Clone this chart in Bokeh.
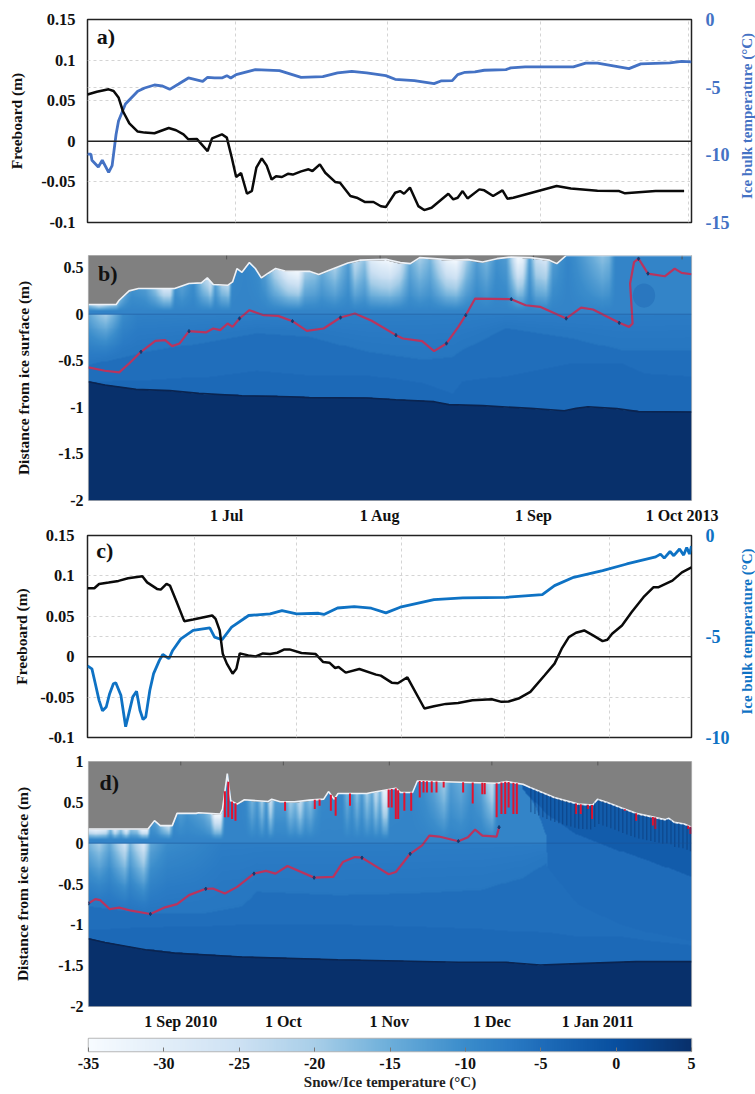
import numpy as np
from bokeh.plotting import figure
from bokeh.layouts import column, row
from bokeh.models import (Range1d, LinearAxis, FixedTicker, NumeralTickFormatter, LinearColorMapper,
                          Grid, Span, Label)
from bokeh.embed import file_html
from bokeh.resources import INLINE

# ---------- panel a (days since 1 Jun 2013)
a_fb_days = [0,1.9,4.3,5.3,6.3,7.2,8.5,10.2,11.6,13.6,16.5,18,19.5,20.5,22.2,24.4,25.3,27.3,28.3,29.3,30.2,31.2,32.4,33.4,34.3,35.4,36.4,37.4,38.3,39.5,40.7,41.7,43.4,44.9,45.7,47.2,48.3,50.3,51.3,53.4,54.7,56.4,58.1,59.6,60.6,62.5,63.5,64.3,65.5,67.2,68.4,69.9,73.3,74.3,75.2,76.2,77.2,79.6,80.6,82.4,84.3,85.3,86.5,95.3,98.2,103.6,108,109.2,115.4,121.2]
a_fb = [.0576,.061,.064,.062,.054,.037,.022,.012,.0107,.0099,.0164,.0136,.0086,.0025,.0029,-.012,.0037,.0086,.0045,-.02,-.044,-.039,-.0646,-.061,-.0325,-.021,-.03,-.047,-.043,-.044,-.04,-.041,-.037,-.0345,-.0366,-.0284,-.0387,-.05,-.051,-.0674,-.0695,-.0748,-.0748,-.08,-.081,-.0633,-.0613,-.0646,-.057,-.0798,-.0847,-.0818,-.0646,-.0715,-.0695,-.0613,-.0703,-.0592,-.0604,-.0674,-.0604,-.0707,-.0695,-.055,-.058,-.0609,-.0613,-.0641,-.0613,-.0613]
a_t_days = [0,.7,.9,2.2,3,4.3,5,5.8,6.3,7.7,10.2,11.6,13.6,15.1,16.7,18.5,20.5,23.4,24.4,25.8,27.3,28.3,29.1,30.2,34.1,39,43.4,47.8,50.8,53.7,56.7,60.6,62.5,66.4,70.4,71.8,74.1,75.2,76.7,78.7,80.6,85,86,88.9,98.7,101.2,103.6,110,112.4,118.3,120.7,122.7]
a_t = [-9.95,-9.95,-10.4,-10.9,-10.4,-11.3,-10.8,-8.5,-7.5,-6.25,-5.3,-5.06,-4.84,-4.9,-5.16,-4.77,-4.32,-4.57,-4.27,-4.32,-4.32,-4.15,-4.32,-4.07,-3.7,-3.78,-4.27,-4.22,-3.95,-3.83,-3.95,-4.15,-4.42,-4.52,-4.74,-4.54,-4.52,-4.07,-3.9,-3.87,-3.75,-3.7,-3.57,-3.5,-3.5,-3.23,-3.23,-3.63,-3.28,-3.2,-3.09,-3.13]
a_grid_days = [30,61,92,122]

# ---------- panel b
b_tick_days = [30,61,92,122]
b_tick_labels = ["1 Jul","1 Aug","1 Sep","1 Oct 2013"]
b_s_days = [2.1,7.7,8.3,10.3,12.2,16.6,19.5,22.4,24.9,26.1,27.3,30.2,31.2,32.1,33.1,34.6,35.8,37,38.4,39.9,41.8,46.7,48.6,50.6,54.5,56.9,62.2,65.1,67.1,69,71.9,75.8,78.7,81.7,84.6,87.5,91.4,95.2,96.7,98.6,123.9]
b_s = [.104,.104,.15,.25,.275,.275,.275,.33,.336,.39,.318,.31,.346,.49,.45,.554,.49,.39,.44,.49,.464,.46,.425,.47,.55,.58,.59,.554,.543,.607,.596,.58,.586,.56,.596,.614,.607,.58,.543,.63,.63]
b_red_days = [2.1,5.4,8.3,10.3,12.7,15.6,17.6,19,20.5,22.4,25.8,27.3,28.7,30.2,31.2,32.6,34.6,37.5,40.4,43.3,46.2,49.6,53,55.9,59.3,64.2,65.6,69.5,71.9,74.4,76.8,78.3,80.2,87.5,90.4,93.3,98.6,101.6,104,109.3,111.3,112,111.5,112.3,113.2,115.1,118.5,120.5,121.9,123.9]
b_red = [-.571,-.607,-.625,-.529,-.404,-.286,-.279,-.343,-.314,-.182,-.196,-.154,-.171,-.1,-.136,-.046,.043,-.011,-.018,-.075,-.179,-.154,-.036,.007,-.071,-.225,-.261,-.289,-.396,-.314,-.136,-.011,.168,.161,.096,.079,-.046,.071,.05,-.093,-.136,-.1,.329,.56,.596,.436,.407,.489,.443,.429]
b_bot_days = [2.1,5.4,11.7,18.5,24.4,33.1,42.8,46.7,58.3,64.2,71.9,74.9,81.7,91.4,98.2,100.6,103,108.8,113.2,123.9]
b_bot = [-.725,-.761,-.807,-.821,-.85,-.875,-.886,-.896,-.9,-.918,-.939,-.971,-.982,-1.011,-1.036,-1.011,-.993,-1.014,-1.046,-1.05]
b_band_days = [2.1,13.7,26.3,36,46.7,58.3,69.9,75.8,77.7,86.5,100.1,109.8,114.6,123.9]
b_iso_a = [-.546,-.404,-.296,-.207,-.243,-.404,-.486,-.457,-.386,-.154,-.261,-.386,-.386,-.386]
b_iso_b = [-.725,-.714,-.671,-.607,-.654,-.654,-.743,-.85,-.725,-.664,-.529,-.529,-.636,-.664]
b_snow_days = [2.1,4.1,6.1,7.5,10.8,13.5,15.5,17.2,18.5,19.5,20.9,23.2,25.3,26.6,27.6,28.9,30.3,31,33.6,36.3,37.7,39.7,42.4,44.4,45.7,47.7,49.1,51.8,54.5,55.8,57.8,59.1,61.2,63.1,65.1,67.1,69.1,71.2,74.5,76.5,78.5,80.6,82.6,84.6,86.6,88.9,89.9,91.3,92.6,94.6,96,98,99,106,107.4,108.7,111.4,123.5]
b_snow_t = [-20,-26,-22,-20,-12,-14,-20,-28,-28,-12,-15,-11,-22,-28,-14,-22,-24,-10,-9,-11,-14,-24,-32,-34,-22,-20,-16,-22,-14,-25,-20,-30,-33,-34,-28,-16,-22,-18,-32,-34,-22,-14,-18,-12,-14,-34,-32,-14,-26,-28,-14,-11,-9,-20,-18,-9,-8,-8]
b_cold_days = [2.1,4.1,5.5,7,9,12,123.9]
b_cold_t = [-14,-18,-20,-16,-10,-8,-7.2]
b_mark_days = [12.7,22.4,32.6,43.3,53,64.2,74.4,78.3,87.5,98.6,109.3,113.2,115.1]

# ---------- panel c (days since 1 Aug 2010)
c_fb_days = [-.3,1.7,3.1,5.9,8.8,11.6,15.8,17.2,20.1,21.2,22.9,23.9,25.7,28.1,30.7,36.3,37.3,38.5,39.4,40.6,42.3,43.4,44.4,46.9,49.1,51.2,53.3,55.4,57.5,59,62.5,66.7,68.9,70.7,72.4,73.4,75.5,79.5,84.4,85.8,89,90.8,93.6,98.6,101.4,104.9,108.5,112.7,118.4,121.2,123.3,126.2,129.7,133.9,136.8,138.9,141,143.1,145.5,148.1,150.9,152.3,153.7,156.6,159.4,162.9,165.8,167.2,171.4,174.2,177]
c_fb = [.0847,.0847,.09,.0917,.0938,.097,.0995,.092,.0839,.083,.09,.088,.0695,.044,.046,.051,.0469,.0325,.0037,-.0086,-.021,-.0148,.0041,.0016,.0004,.0041,.0033,.0049,.009,.009,.0045,.0033,-.0066,-.0074,-.014,-.0127,-.0197,-.0152,-.0222,-.0234,-.0321,-.0329,-.0255,-.0641,-.0613,-.0584,-.0572,-.0539,-.0526,-.0559,-.0555,-.0518,-.0436,-.023,-.0086,.0099,.0243,.0296,.0325,.0263,.0193,.021,.0284,.0387,.0551,.0736,.0859,.0859,.0942,.1044,.1106]
c_t_days = [-.3,1,2,3.1,4.1,5.2,6.2,7.3,8,9.5,10.9,11.6,13,14.1,15.1,16,16.8,18,19.1,20.8,21.8,23.6,24.7,27.1,30.7,35.6,37,39.2,42,47,53.3,56.8,61.1,67.5,69.1,73.1,78,83,87.3,91.5,101.4,109.9,122.6,133.2,136.8,142.4,150.9,158,166.5,167.9,169,170.7,171.8,173.5,174.7,175.6,176.4,177]
c_t = [-6.46,-6.6,-7.34,-8.16,-8.68,-8.49,-7.83,-7.34,-7.29,-7.91,-9.47,-8.98,-7.99,-7.71,-8.65,-9.11,-8.98,-7.66,-6.84,-6.18,-5.89,-6.1,-5.69,-5.12,-4.7,-4.57,-5.03,-5.16,-4.54,-3.96,-3.88,-3.72,-3.88,-3.85,-3.91,-3.59,-3.52,-3.6,-3.83,-3.55,-3.17,-3.09,-3.06,-2.93,-2.48,-2.07,-1.74,-1.41,-1.06,-.92,-1.12,-.79,-1.0,-.67,-.97,-.59,-.92,-.52]
c_grid_days = [31,61,92,122,153]

# ---------- panel d
d_tick_days = [31,61,92,122,153]
d_tick_labels = ["1 Sep 2010","1 Oct","1 Nov","1 Dec","1 Jan 2011"]
d_s_days = [4,21.4,23.3,25,28.5,29.9,35.5,36.2,42.5,43.2,44.6,45.6,47.5,49.6,56.6,57.6,60.1,64.3,68.6,72.8,74.2,75.9,77,85.4,86.8,93.9,95.3,98.8,100.2,123.4,126.2,131.1,133.2,140.3,147.3,151.5,152.9,155.8,160,164.2,172.6,173.8,175.4,178.3,180.4]
d_s = [.174,.174,.276,.215,.215,.365,.365,.373,.357,.418,.851,.519,.478,.531,.511,.539,.507,.507,.527,.539,.632,.539,.608,.608,.62,.673,.62,.62,.762,.734,.754,.722,.681,.559,.478,.466,.539,.499,.43,.365,.288,.304,.255,.235,.195]
d_red_days = [4,6,7.4,10.2,13,16.5,22.1,26.4,29.9,33.4,38.3,40.4,43.9,47.5,52.4,55.9,58.7,62.2,70,75.6,78.4,81.9,84,86.8,91.8,93.9,98.1,101.6,103.7,106.5,112.2,115,117.1,119.2,123.4,124.1]
d_red = [-.738,-.685,-.697,-.807,-.79,-.827,-.867,-.786,-.746,-.636,-.559,-.555,-.616,-.535,-.373,-.34,-.373,-.28,-.422,-.413,-.231,-.17,-.178,-.251,-.381,-.353,-.13,-.028,.093,.081,.024,.073,.166,.093,.081,.195]
d_bot_days = [4,8.8,20.7,29.2,48.9,77,91.1,112.2,126.2,136.1,147.3,164.2,180.4]
d_bot = [-1.171,-1.216,-1.305,-1.346,-1.394,-1.427,-1.439,-1.459,-1.459,-1.492,-1.475,-1.451,-1.451]
d_band_days = [4,20.7,37.6,48.9,53.1,77,98.1,119.2,129,131.1,135,138,138.5,147.3,160,168.4,180.4]
d_iso_a = [-.778,-.859,-.859,-.778,-.596,-.636,-.616,-.576,-.45,-.43,-.33,-.25,-.3,-.75,-1,-1.1,-1.2]
d_iso_b = [-1.062,-1.03,-1.02,-1,-1,-1,-1.02,-1.05,-1.08,-1.08,-1.08,-1.1,-1.1,-1.15,-1.15,-1.2,-1.25]
d_iso_e = [2,2,2,2,2,2,2,2,2,.72,.45,.1,-.3,-.75,-1,-1.1,-1.2]
d_iso_d = [2,2,2,2,2,2,2,2,2,.66,.5,.37,.35,.1,-.1,-.22,-.41]
d_snow_days = [4,6,8.9,10.3,11.6,13.3,14.9,16.2,18.1,19.6,21,22,24,25.9,27.4,28.8,30.8,32.7,35.6,37.6,39.5,40.8,42.5,43.9,46.8,49.8,51.7,53.2,54.6,55.9,57.1,58.5,61.4,62.9,64.4,65.8,67.3,68.8,70.2,72.2,78,79.5,80.9,82.4,83.8,85.3,86.8,87.9,89.2,90.2,91.1,92.1,98.4,102.3,105.3,108.2,110.1,113.1,116,118.9,120.9,122.3,123.8,129.6,131.6]
d_snow_t = [-30,-33,-30,-18,-30,-20,-32,-20,-22,-33,-33,-12,-16,-22,-26,-10,-14,-12,-14,-16,-20,-34,-34,-8,-8,-10,-18,-13,-22,-12,-28,-14,-14,-22,-18,-26,-16,-20,-14,-10,-10,-18,-12,-20,-13,-22,-16,-26,-18,-32,-32,-10,-9,-12,-16,-22,-14,-17,-12,-15,-22,-26,-10,-8,-3]
d_cold_days = [4,7,10,14.5,16,20,22,27,35,43,181]
d_cold_t = [-16,-20,-14,-26,-16,-28,-14,-10,-9,-7.5,-7.2]
d_mark_days = [4,22.1,38.3,52.4,70,84,98.1,112.2,124.1]
d_melt_days = [43.9,44.9,46,47,61.5,70.2,71.6,74.9,76.3,80.5,91.8,92.7,93.9,94.6,96.4,98.4,100.9,102,103,104.4,105.8,107.9,113.6,116.4,119.2,119.9,123.4,124.8,125.9,126.9,128.3,129.3,146.6,148,150.1,151.3,160.9,164.2,169.1,169.8,179.4,180.1]
d_melt_low = [.316,.316,.296,.276,.397,.418,.458,.397,.336,.458,.438,.438,.296,.296,.397,.397,.559,.62,.62,.62,.62,.681,.62,.486,.6,.6,.316,.357,.357,.438,.357,.357,.357,.357,.418,.296,.397,.276,.215,.174,.174,.113]
d_comb_days = [133.4,134.6,135.7,136.9,138.1,139.2,140.4,141.6,142.7,143.9,145.1,146.3,147.4,148.6,149.8,150.9,152.1,153.3,154.5,155.6,156.8,158,159.1,160.3,161.5,162.7,163.8,165,166.2,167.3,168.5,169.7,170.9,172,173.2,174.4,175.5,176.7,177.9,179.1,180.1]

# ---------- colour bar
cb_ticks = [-35,-30,-25,-20,-15,-10,-5,0,5]
cb_stop_t = [-35,-30,-25,-20,-15,-10,-7,-5,0,5]
cb_stop_rgb = [(247,251,255),(226,238,249),(205,225,243),(168,206,232),(108,174,218),(58,140,203),(42,123,196),(31,109,186),(8,79,159),(8,48,107)]

SERIF = "Liberation Serif"
BLUE_A, BLUE_C = "#4472c4", "#0e72c4"
_t = np.linspace(-35, 5, 256)
_pal = ["#%02x%02x%02x" % tuple(int(round(np.interp(v, cb_stop_t, [c[i] for c in cb_stop_rgb]))) for i in range(3)) for v in _t]
MAPPER = LinearColorMapper(palette=_pal, low=-35, high=5, nan_color="#808080")
LEFT, RIGHT, WIDTH = 87, 64, 755
SIDE = 20


def field(x0, x1, y0, y1, s_d, s, bot_d, bot, band_d, iso_a, iso_b, snow_d, snow_t, cold_d, cold_t,
          iso_e=None, iso_d=None):
    xs = np.linspace(x0, x1, 604)
    ys = np.linspace(y0, y1, 260)
    X, Y = np.meshgrid(xs, ys)
    S = np.interp(X, s_d, s)
    BOT = np.interp(X, bot_d, bot)
    A = np.interp(X, band_d, iso_a)
    B = np.interp(X, band_d, iso_b)
    E = np.interp(X, band_d, iso_e) if iso_e is not None else np.full_like(X, 2.0)
    D = np.interp(X, band_d, iso_d) if iso_d is not None else np.full_like(X, 2.0)
    TS = np.interp(X, snow_d, snow_t)
    C = np.interp(X, cold_d, cold_t)
    T = np.full_like(X, -4.4)
    T[Y >= B] = -5.2
    T[Y >= A] = -6.4
    w = np.clip((Y - A) / np.maximum(-A, 1e-3), 0, 1)
    dome = (Y >= A) & (Y < 0)
    T[dome] = (-6.4 + (C + 6.4) * w ** 1.5)[dome]
    above = (Y >= 0)
    w2 = np.clip((Y - 0.04) / np.maximum(S - 0.04, 1e-3), 0, 1)
    depth = np.clip(-8.6 - TS, 0, None)
    depth = 26.0 * (depth / 26.0) ** 1.25
    Ts = -8.6 - depth * w2 ** 1.0
    T[above] = Ts[above]
    T[Y >= E] = -4.8
    T[Y >= D] = -2.2
    T[Y < BOT] = 5.0
    T[Y > S] = np.nan
    return T


def style_common(p):
    p.toolbar.logo = None
    p.outline_line_color = "#222222"
    p.outline_line_width = 1.5
    p.xgrid.visible = False
    p.ygrid.visible = False
    return p


def side_title(h, top, bottom, colour):
    """Narrow strip whose left axis carries the right-hand title, reading upward and centred."""
    s = figure(width=SIDE, height=h, x_range=Range1d(0, 1), y_range=Range1d(0, 1), toolbar_location=None,
               output_backend="svg", min_border_left=SIDE - 2, min_border_right=0,
               min_border_top=top, min_border_bottom=bottom, frame_align=False)
    s.outline_line_color = None
    s.xgrid.visible = False
    s.ygrid.visible = False
    s.xaxis.visible = False
    ya = s.yaxis[0]
    ya.ticker = FixedTicker(ticks=[])
    ya.major_tick_in = 0
    ya.major_tick_out = 0
    ya.minor_tick_line_color = None
    ya.axis_line_color = None
    ya.major_label_standoff = 0
    ya.axis_label = "Ice bulk temperature (°C)"
    ya.axis_label_standoff = 0
    ya.axis_label_text_font = SERIF
    ya.axis_label_text_font_style = "bold"
    ya.axis_label_text_font_size = "15px"
    ya.axis_label_text_color = colour
    return s


def line_panel(h, top, bottom, xr, yr, tr, grid_days, fb_d, fb, t_d, t, colour, label, label_xy, ls, title_off):
    p = figure(width=WIDTH - SIDE, height=h, x_range=Range1d(*xr), y_range=Range1d(*yr), toolbar_location=None,
               output_backend="svg", min_border_left=LEFT, min_border_right=RIGHT - SIDE,
               min_border_top=top, min_border_bottom=bottom, background_fill_color="white", frame_align=False)
    style_common(p)
    p.extra_y_ranges = {"temp": Range1d(*tr)}
    p.xaxis.visible = False
    ya = p.yaxis[0]
    ya.ticker = FixedTicker(ticks=[-0.1, -0.05, 0, 0.05, 0.1, 0.15])
    ya.formatter = NumeralTickFormatter(format="0.[00]")
    ya.axis_label = "Freeboard (m)"
    ya.axis_label_text_font = SERIF
    ya.axis_label_text_font_style = "bold"
    ya.axis_label_text_font_size = "15.5px"
    ya.axis_label_text_color = "#111111"
    ya.axis_label_standoff = title_off
    ya.major_label_text_font = SERIF
    ya.major_label_text_font_style = "bold"
    ya.major_label_text_font_size = "16.5px"
    ya.major_label_text_color = "#111111"
    ya.major_label_standoff = ls
    ya.major_tick_in = 0
    ya.major_tick_out = 0
    ya.minor_tick_line_color = None
    ya.axis_line_color = None
    tks = list(np.arange(tr[0], tr[1] + 1, 5))
    ra = LinearAxis(y_range_name="temp", ticker=FixedTicker(ticks=tks), formatter=NumeralTickFormatter(format="0"))
    ra.major_label_text_font = "Liberation Sans Narrow"
    ra.major_label_text_font_style = "bold"
    ra.major_label_text_font_size = "18px"
    ra.major_label_text_color = colour
    ra.major_label_standoff = 14
    ra.major_tick_in = 0
    ra.major_tick_out = 0
    ra.minor_tick_line_color = None
    ra.axis_line_color = None
    p.add_layout(ra, "right")
    for g in (Grid(dimension=0, ticker=FixedTicker(ticks=grid_days)),
              Grid(dimension=1, ticker=FixedTicker(ticks=[-0.1, -0.05, 0.05, 0.1, 0.15])),
              Grid(dimension=1, y_range_name="temp", ticker=FixedTicker(ticks=tks[1:-1]))):
        g.grid_line_color = "#d4d4d4"
        g.grid_line_dash = "3 3"
        g.grid_line_width = 1
        p.add_layout(g)
    p.add_layout(Span(location=0, dimension="width", line_color="#222222", line_width=1.6))
    p.line(t_d, t, y_range_name="temp", line_color=colour, line_width=2.8)
    p.line(fb_d, fb, line_color="#0a0a0a", line_width=2.5)
    p.add_layout(Label(x=label_xy[0], y=label_xy[1], text=label, text_font=SERIF, text_font_style="bold",
                       text_font_size="22px", text_color="#111111", text_baseline="middle"))
    return row(p, side_title(h, top - 5, bottom + 5, colour), spacing=0)


def heat_panel(h, top, bottom, xr, yr, yticks, ticks, tick_labels, T, s_d, s, red_d, red, bot_d, bot, marks,
               label, label_xy, ls, title_off):
    p = figure(width=WIDTH, height=h, x_range=Range1d(*xr), y_range=Range1d(*yr), toolbar_location=None,
               output_backend="svg", min_border_left=LEFT, min_border_right=RIGHT,
               min_border_top=top, min_border_bottom=bottom)
    style_common(p)
    p.outline_line_color = "#b8b8b8"
    p.outline_line_width = 1.2
    p.image(image=[T], x=xr[0], y=yr[0], dw=xr[1] - xr[0], dh=yr[1] - yr[0], color_mapper=MAPPER)
    p.add_layout(Span(location=0, dimension="width", line_color="#1b4f8f", line_width=0.8, line_alpha=0.6))
    xa = p.xaxis[0]
    xa.ticker = FixedTicker(ticks=ticks)
    xa.major_label_overrides = dict(zip(ticks, tick_labels))
    xa.major_tick_in = 0
    xa.major_tick_out = 0
    xa.minor_tick_line_color = None
    xa.axis_line_color = None
    xa.major_label_text_font = SERIF
    xa.major_label_text_font_style = "bold"
    xa.major_label_text_font_size = "16px"
    xa.major_label_text_color = "#111111"
    xa.major_label_standoff = 6
    tick_len = (yr[1] - yr[0]) * 0.016
    p.segment(ticks, [yr[1]] * len(ticks), ticks, [yr[1] - tick_len] * len(ticks), line_color="#555555", line_width=1)
    ya = p.yaxis[0]
    ya.ticker = FixedTicker(ticks=yticks)
    ya.formatter = NumeralTickFormatter(format="0.[0]")
    ya.axis_label = "Distance from ice surface (m)"
    ya.axis_label_text_font = SERIF
    ya.axis_label_text_font_style = "bold"
    ya.axis_label_text_font_size = "15.5px"
    ya.axis_label_text_color = "#111111"
    ya.axis_label_standoff = title_off
    ya.major_label_text_font = SERIF
    ya.major_label_text_font_style = "bold"
    ya.major_label_text_font_size = "16px"
    ya.major_label_text_color = "#111111"
    ya.major_label_standoff = ls
    ya.major_tick_in = 0
    ya.major_tick_out = 0
    ya.minor_tick_line_color = None
    ya.axis_line_color = None
    p.line(bot_d, bot, line_color="#0a2450", line_width=1.6)
    p.line(red_d, red, line_color="#b9345e", line_width=2.2)
    order = np.argsort(red_d)
    p.scatter(marks, np.interp(marks, np.array(red_d)[order], np.array(red)[order]),
              size=3.5, color="#123a70", marker="diamond")
    p.line(s_d, s, line_color="#eef2f7", line_width=1.6)
    p.add_layout(Label(x=label_xy[0], y=label_xy[1], text=label, text_font=SERIF, text_font_style="bold",
                       text_font_size="22px", text_color="#111111", text_baseline="middle"))
    return p


# panel a
pa = line_panel(245, 19, 23, (0, 122.7), (-0.1, 0.15), (-15, 0), a_grid_days, a_fb_days, a_fb, a_t_days, a_t,
                BLUE_A, "a)", (1.9, 0.129), 12, 13)

# panel b
bx = (2.1, 123.9)
by = (-2.0, 0.63)
Tb = field(bx[0], bx[1], by[0], by[1], b_s_days, b_s, b_bot_days, b_bot, b_band_days, b_iso_a, b_iso_b,
           b_snow_days, b_snow_t, b_cold_days, b_cold_t)
pb = heat_panel(281, 10, 24, bx, by, [-2, -1.5, -1, -0.5, 0, 0.5], b_tick_days, b_tick_labels, Tb,
                b_s_days, b_s, b_red_days, b_red, b_bot_days, b_bot, b_mark_days, "b)", (4.0, 0.44), 5, 23)
pb.ellipse(x=[114.3], y=[0.2], width=4.5, height=0.26, fill_color="#2069b4", fill_alpha=0.45, line_color=None)

# panel c
pc = line_panel(224, 9, 13, (-0.3, 177), (-0.1, 0.15), (-10, 0), c_grid_days, c_fb_days, c_fb, c_t_days, c_t,
                BLUE_C, "c)", (2.3, 0.131), 13, 7)

# panel d
dx = (4.0, 180.4)
dy = (-2.0, 1.0)
Td = field(dx[0], dx[1], dy[0], dy[1], d_s_days, d_s, d_bot_days, d_bot, d_band_days, d_iso_a, d_iso_b,
           d_snow_days, d_snow_t, d_cold_days, d_cold_t, d_iso_e, d_iso_d)
pd_ = heat_panel(282, 11, 25, dx, dy, [-2, -1.5, -1, -0.5, 0, 0.5, 1], d_tick_days, d_tick_labels, Td,
                 d_s_days, d_s, d_red_days, d_red, d_bot_days, d_bot, d_mark_days, "d)", (7.2, 0.744), 5, 24)
melt_top = np.interp(d_melt_days, d_s_days, d_s)
pd_.segment(d_melt_days, melt_top, d_melt_days, d_melt_low, line_color="#e3122e", line_width=2)
comb_top = np.interp(d_comb_days, d_s_days, d_s)
pd_.segment(d_comb_days, comb_top, d_comb_days, comb_top - 0.3, line_color="#08306b", line_width=1.3, line_alpha=0.45)

# colour bar
pcb = figure(width=WIDTH, height=62, x_range=Range1d(-35, 5), y_range=Range1d(0, 1), toolbar_location=None,
             output_backend="svg", min_border_left=LEFT + 1, min_border_right=RIGHT,
             min_border_top=6, min_border_bottom=43)
style_common(pcb)
pcb.outline_line_color = "#b8b8b8"
pcb.yaxis.visible = False
pcb.image(image=[np.linspace(-35, 5, 256).reshape(1, -1)], x=-35, y=0, dw=40, dh=1, color_mapper=MAPPER)
xa = pcb.xaxis[0]
xa.ticker = FixedTicker(ticks=cb_ticks)
xa.formatter = NumeralTickFormatter(format="0")
xa.axis_label = "Snow/Ice temperature (°C)"
xa.axis_label_text_font = SERIF
xa.axis_label_text_font_style = "bold"
xa.axis_label_text_font_size = "15px"
xa.axis_label_text_color = "#222222"
xa.axis_label_standoff = 2
xa.major_label_text_font = SERIF
xa.major_label_text_font_style = "bold"
xa.major_label_text_font_size = "16px"
xa.major_label_text_color = "#111111"
xa.major_label_standoff = 6
xa.major_tick_in = 4
xa.major_tick_out = 0
xa.major_tick_line_color = "#777777"
xa.minor_tick_line_color = None
xa.axis_line_color = None

layout = column(pa, pb, pc, pd_, pcb, spacing=0)
open("out.html", "w").write(file_html(layout, INLINE))
